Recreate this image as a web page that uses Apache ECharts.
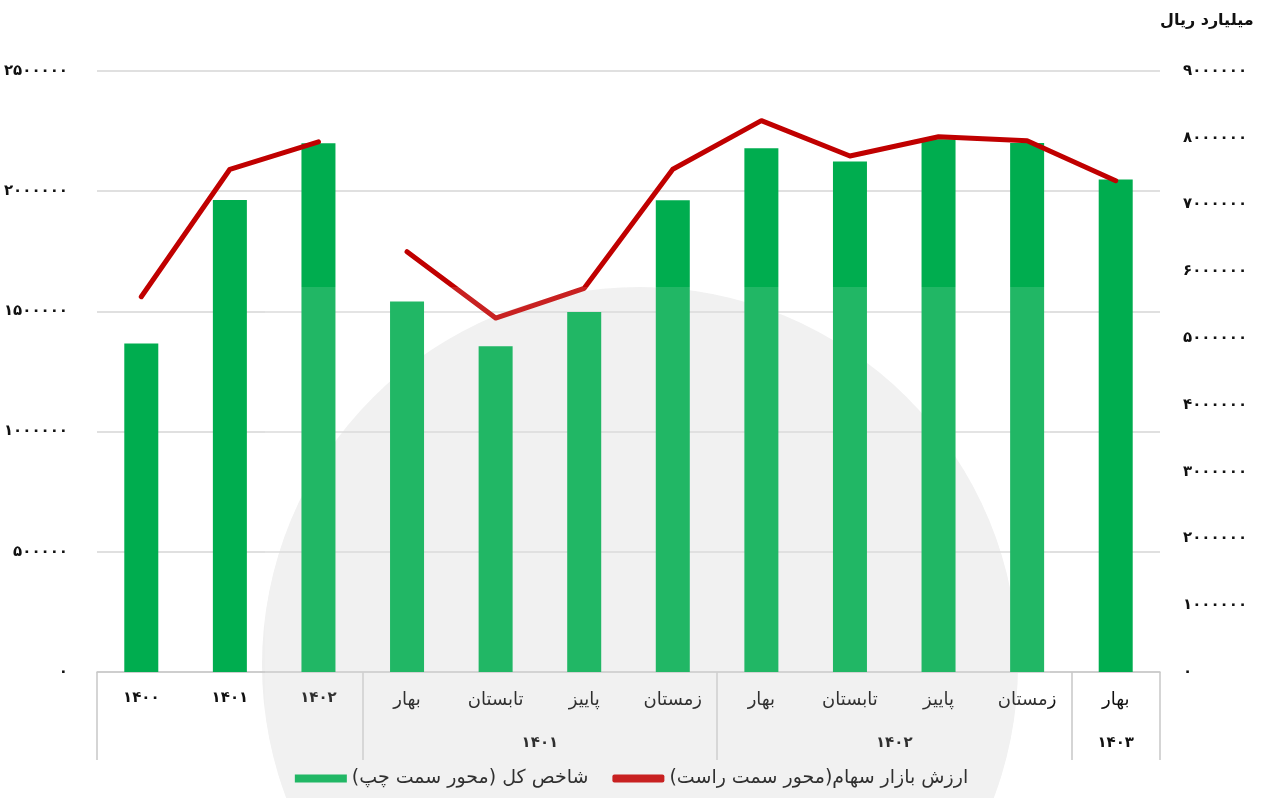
<!DOCTYPE html>
<html><head><meta charset="utf-8">
<title>شاخص کل و ارزش بازار سهام</title>
<script src="https://cdn.jsdelivr.net/npm/echarts@6/dist/echarts.min.js"></script>
<style>
  html, body { margin:0; padding:0; background:#fff; }
  #chart { width:1263px; height:798px; }
</style>
</head>
<body>
<div id="chart"></div>
<script type="text/javascript">
  // categories (row 1) and period groups (row 2)
  var categories = ['۱۴۰۰', '۱۴۰۱', '۱۴۰۲', 'بهار', 'تابستان', 'پاییز', 'زمستان', 'بهار', 'تابستان', 'پاییز', 'زمستان', 'بهار'];
  var groupNames = ['۱۴۰۱', '۱۴۰۲', '۱۴۰۳'];
  var groupStart = [3, 7, 11];
  var groupEnd = [7, 11, 12];

  // شاخص کل, left axis
  var indexValues = [1366000, 1963000, 2199000, 1541000, 1355000, 1498000, 1962000, 2179000, 2124000, 2216000, 2200000, 2049000];
  // ارزش بازار سهام, right axis (billion rials)
  var marketValues = [5620000, 7528000, 7940000, 6294000, 5300000, 5745000, 7528000, 8256000, 7727000, 8016000, 7956000, 7357000];
  var lineBreakAfter = 2; // line is not joined between yearly and quarterly points

  var leftTicks = {min: 0, max: 2500000, interval: 500000};
  var rightTicks = {min: 0, max: 9000000, interval: 1000000};

  var barName = 'شاخص کل (محور سمت چپ)';
  var lineName = 'ارزش بازار سهام(محور سمت راست)';

  function toFa(n){ return String(n).replace(/\d/g, function(d){ return '۰۱۲۳۴۵۶۷۸۹'[d]; }); }

  var lineA = marketValues.map(function(v, i){ return i <= lineBreakAfter ? v : '-'; });
  var lineB = marketValues.map(function(v, i){ return i > lineBreakAfter ? v : '-'; });

  var FONT = 'DejaVu Sans';
  var labelStyle = {fontFamily: FONT, fontSize: 15, fontWeight: 'bold', color: '#111'};
  var catRich = {
    d: {fontFamily: FONT, fontSize: 15, fontWeight: 'bold', color: '#111'},
    w: {fontFamily: FONT, fontSize: 18, color: '#111'}
  };

  var chart = echarts.init(document.getElementById('chart'));
  var option = {
    animation: false,
    textStyle: {fontFamily: FONT},
    graphic: [
      {type: 'circle', z: -10, silent: true, shape: {cx: 640, cy: 665, r: 378}, style: {fill: '#efefef'}},
      {type: 'rect', z: 100, silent: true, shape: {x: 265, y: 287, width: 785, height: 511}, style: {fill: 'rgba(255,255,255,0.13)'}}
    ],
    grid: {left: 97, right: 103, top: 71, bottom: 126},
    legend: {
      bottom: 5, left: 'center', itemGap: 24, itemWidth: 52, itemHeight: 8,
      data: [
        {name: barName, icon: 'rect'},
        {name: lineName, icon: 'roundRect', itemStyle: {color: '#c00000'}}
      ],
      formatter: function(n){ return '\u200F' + n + '\u200F'; },
      textStyle: {fontFamily: FONT, fontSize: 19, color: '#111'}
    },
    xAxis: [
      {
        type: 'category', data: categories, position: 'bottom',
        axisLine: {lineStyle: {color: '#c8c8c8', width: 1.5}},
        axisTick: {show: false},
        axisLabel: {
          margin: 19, interval: 0, rich: catRich,
          formatter: function(v){ return /^[۰-۹]+$/.test(v) ? '{d|' + v + '}' : '{w|' + v + '}'; }
        }
      },
      {
        type: 'category', data: categories, position: 'bottom',
        axisLine: {show: false},
        axisLabel: {show: false},
        axisTick: {
          show: true, length: 88, lineStyle: {color: '#c8c8c8', width: 1.5},
          interval: function(i){ return i === 0 || groupStart.indexOf(i) >= 0; }
        }
      },
      {
        type: 'value', min: 0, max: categories.length, interval: 0.5, position: 'bottom',
        axisLine: {show: false}, axisTick: {show: false}, splitLine: {show: false},
        axisLabel: Object.assign({
          margin: 64, showMinLabel: true, showMaxLabel: true,
          formatter: function(v){
            for (var k = 0; k < groupNames.length; k++) {
              if (Math.abs((groupStart[k] + groupEnd[k]) / 2 - v) < 1e-6) return groupNames[k];
            }
            return '';
          }
        }, labelStyle)
      }
    ],
    yAxis: [
      {
        type: 'value', min: leftTicks.min, max: leftTicks.max, interval: leftTicks.interval,
        axisLine: {show: false}, axisTick: {show: false},
        splitLine: {lineStyle: {color: '#d6d6d6', width: 1.5}},
        axisLabel: Object.assign({margin: 29, formatter: toFa}, labelStyle)
      },
      {
        type: 'value', min: rightTicks.min, max: rightTicks.max, interval: rightTicks.interval,
        position: 'right',
        name: 'میلیارد ریال', nameLocation: 'end', nameGap: 42,
        nameTextStyle: {fontFamily: FONT, fontSize: 16, fontWeight: 'bold', color: '#111', align: 'left'},
        axisLine: {show: false}, axisTick: {show: false}, splitLine: {show: false},
        axisLabel: Object.assign({margin: 23, formatter: toFa}, labelStyle)
      }
    ],
    series: [
      {
        name: barName, type: 'bar', data: indexValues, xAxisIndex: 0, yAxisIndex: 0,
        barWidth: 34, itemStyle: {color: '#00ad4f'}
      },
      {
        name: lineName, type: 'line', data: lineA, xAxisIndex: 0, yAxisIndex: 1,
        symbol: 'none', lineStyle: {color: '#c00000', width: 5, cap: 'round', join: 'round'},
        itemStyle: {color: '#c00000'}, z: 5
      },
      {
        name: lineName, type: 'line', data: lineB, xAxisIndex: 0, yAxisIndex: 1,
        symbol: 'none', lineStyle: {color: '#c00000', width: 5, cap: 'round', join: 'round'},
        itemStyle: {color: '#c00000'}, z: 5
      }
    ]
  };
  chart.setOption(option);
</script>
</body></html>
